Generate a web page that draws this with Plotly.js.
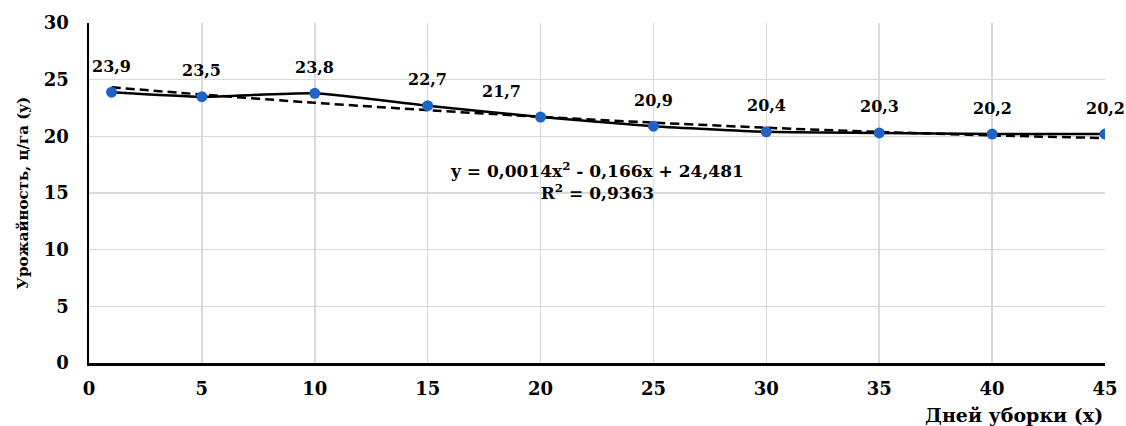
<!DOCTYPE html>
<html>
<head>
<meta charset="utf-8">
<script src="https://cdn.plot.ly/plotly-3.0.1.min.js"></script>
<style>html,body{margin:0;padding:0;background:#fff;}#chart{width:1126px;height:426px;}</style>
</head>
<body>
<div id="chart"></div>
<script>
// Data
const days = [1, 5, 10, 15, 20, 25, 30, 35, 40, 45];
const yieldVals = [23.9, 23.5, 23.8, 22.7, 21.7, 20.9, 20.4, 20.3, 20.2, 20.2];
const yieldLabels = ["23,9", "23,5", "23,8", "22,7", "21,7", "20,9", "20,4", "20,3", "20,2", "20,2"];
// Polynomial trendline (y = 0,0014x² - 0,166x + 24,481) values at the same days
const trendVals = [24.32, 23.69, 22.96, 22.31, 21.72, 21.21, 20.76, 20.39, 20.08, 19.85];
const equationText = "y = 0,0014x<sup>2</sup> - 0,166x + 24,481<br>R<sup>2</sup> = 0,9363";
const xTicks = [0, 5, 10, 15, 20, 25, 30, 35, 40, 45];
const yTicks = [0, 5, 10, 15, 20, 25, 30];

const serif = "'DejaVu Serif', 'Liberation Serif', serif";

const traces = [
  {
    x: days, y: trendVals, type: "scatter", mode: "lines",
    line: {color: "#000", width: 2.5, dash: "9px,5px", shape: "spline", smoothing: 0.6},
    hoverinfo: "skip", showlegend: false
  },
  {
    x: days, y: yieldVals, type: "scatter", mode: "lines+markers",
    line: {color: "#000", width: 2.5, shape: "spline", smoothing: 0.5},
    marker: {color: "#1f63c6", size: 11},
    showlegend: false
  }
];

const annotations = days.map((d, i) => ({
  x: d, y: yieldVals[i], xref: "x", yref: "y",
  text: "<b>" + yieldLabels[i] + "</b>", showarrow: false,
  yshift: 26, xshift: (i === 4 ? -39 : 0),
  font: {family: serif, size: 16, color: "#000"}
}));
annotations.push({
  x: 22.5, y: 16.1, xref: "x", yref: "y",
  text: "<b>" + equationText + "</b>", showarrow: false,
  font: {family: serif, size: 17, color: "#000"}, align: "center"
});

const layout = {
  width: 1126, height: 426,
  margin: {l: 89, r: 21, t: 23, b: 63},
  paper_bgcolor: "#fff", plot_bgcolor: "#fff",
  font: {family: serif, color: "#000"},
  xaxis: {
    range: [0, 45], tickvals: xTicks, ticktext: xTicks.map(v => "<b>" + v + "</b>"),
    showgrid: true, gridcolor: "#d9d9d9", gridwidth: 1.5,
    showline: true, linecolor: "#000", linewidth: 2.5,
    zeroline: false, ticks: "", tickfont: {family: serif, size: 18, color: "#000"},
    ticklabelstandoff: 8,
    title: {text: ""}
  },
  yaxis: {
    range: [0, 30], tickvals: yTicks, ticktext: yTicks.map(v => "<b>" + v + "</b>"),
    showgrid: true, gridcolor: "#d9d9d9", gridwidth: 1.5,
    showline: true, linecolor: "#000", linewidth: 2.5,
    zeroline: false, ticks: "", tickfont: {family: serif, size: 18, color: "#000"},
    ticklabelstandoff: 14,
    title: {text: "<b>Урожайность, ц/га (y)</b>", font: {family: serif, size: 15, color: "#000"}, standoff: 12}
  },
  annotations: annotations.concat([{
    xref: "paper", yref: "paper", x: 1.0, y: -0.153, xanchor: "right", yanchor: "middle",
    text: "<b>Дней уборки (x)</b>", showarrow: false,
    font: {family: serif, size: 19, color: "#000"}
  }])
};

Plotly.newPlot("chart", traces, layout, {displayModeBar: false, staticPlot: true});
</script>
</body>
</html>
